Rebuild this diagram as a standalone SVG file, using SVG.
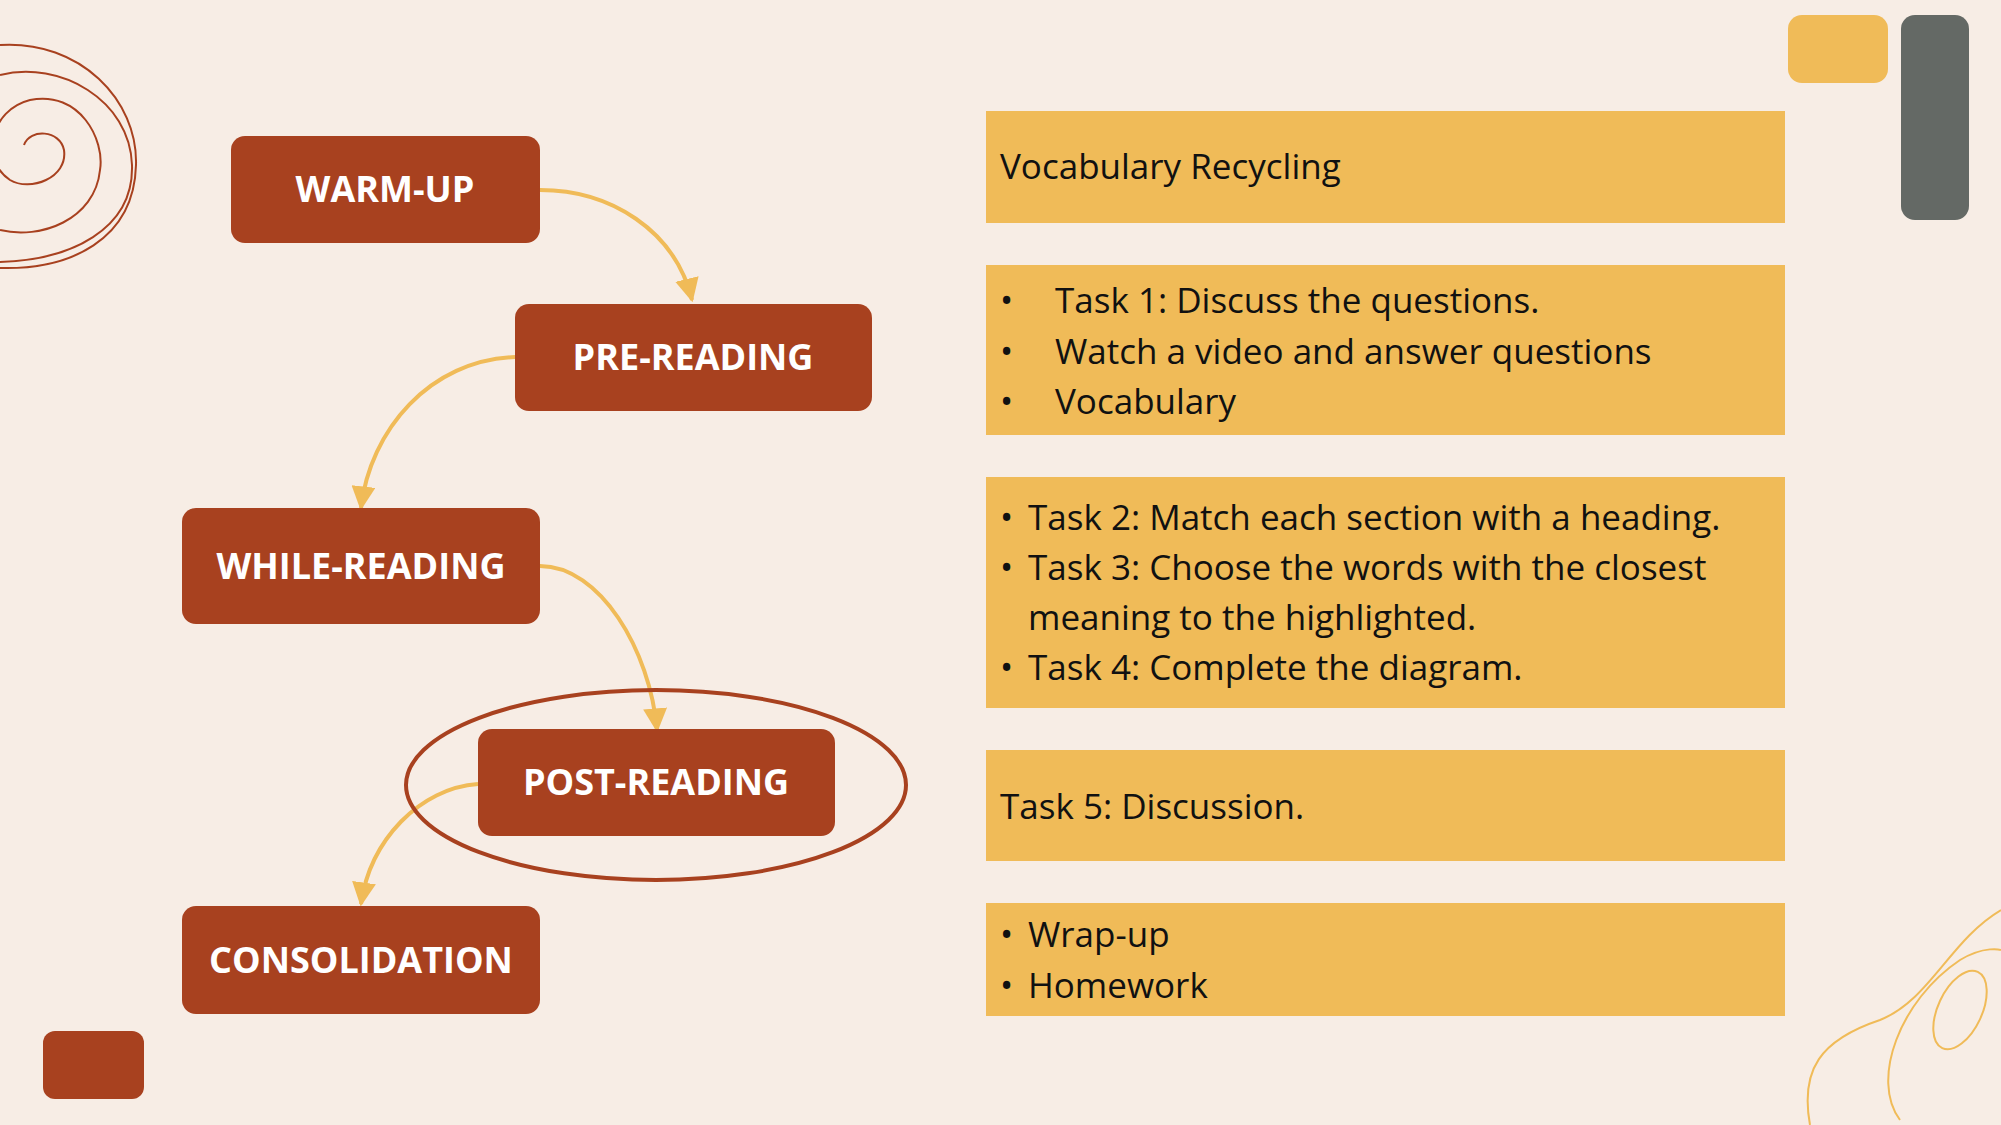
<svg xmlns="http://www.w3.org/2000/svg" width="2001" height="1125" viewBox="0 0 2001 1125">
<defs>
<style>
.n{fill:#a8411f}
.nt{font-family:"Open Sans","Liberation Sans",sans-serif;font-weight:bold;font-size:36px;fill:#fff;text-anchor:middle}
.b{fill:#f0bb58}
.t{font-family:"Open Sans","Liberation Sans",sans-serif;font-size:35px;fill:#111}
.c{fill:none;stroke:#f0bb58;stroke-width:4}
</style>
<marker id="ah" viewBox="0 0 10 10" refX="9" refY="5" markerWidth="6" markerHeight="6" orient="auto" markerUnits="strokeWidth"><path d="M0,0 L10,5 L0,10 Z" fill="#f0bb58"/></marker>
</defs>
<rect width="2001" height="1125" fill="#f7ede5"/>
<g id="decor">
<g fill="none" stroke="#a8411f" stroke-width="2">
<path d="M24,145 C30,128 60,130 64,150 C68,178 30,192 10,180 C-20,160 -10,110 30,100 C80,90 105,140 100,170 C95,220 40,240 0,230"/>
<path d="M0,75 C60,60 130,100 132,165 C134,230 70,260 0,262"/>
<path d="M0,45 C80,40 138,100 136,165 C134,240 70,270 0,268"/>
</g>
<rect x="43" y="1031" width="101" height="68" rx="12" class="n"/>
<rect x="1788" y="15" width="100" height="68" rx="14" class="b"/>
<rect x="1901" y="15" width="68" height="205" rx="14" fill="#646965"/>
<g fill="none" stroke="#f0bb58" stroke-width="2">
<path d="M1810,1125 C1800,1070 1820,1040 1880,1020 C1930,1000 1950,940 2001,910"/>
<path d="M1900,1120 C1870,1080 1900,1000 1960,960 C1985,945 2001,950 2001,950"/>
<ellipse cx="1960" cy="1010" rx="22" ry="42" transform="rotate(25 1960 1010)"/>
</g>
</g>
<g id="connectors">
<path class="c" d="M540,190 C610,190 675,230 692,300" marker-end="url(#ah)"/>
<path class="c" d="M515,357 C430,360 370,430 361,508" marker-end="url(#ah)"/>
<path class="c" d="M540,566 C600,566 650,650 657,730" marker-end="url(#ah)"/>
<path class="c" d="M478,784 C420,788 370,840 361,904" marker-end="url(#ah)"/>
</g>
<ellipse cx="656" cy="785" rx="250" ry="95" fill="none" stroke="#a8411f" stroke-width="4"/>
<g id="warmup"><rect x="231" y="136" width="309" height="107" rx="14" class="n"/><text x="385" y="202" class="nt">WARM-UP</text></g>
<g id="prereading"><rect x="515" y="304" width="357" height="107" rx="14" class="n"/><text x="693" y="370" class="nt">PRE-READING</text></g>
<g id="whilereading"><rect x="182" y="508" width="358" height="116" rx="14" class="n"/><text x="361" y="579" class="nt">WHILE-READING</text></g>
<g id="postreading"><rect x="478" y="729" width="357" height="107" rx="14" class="n"/><text x="656" y="795" class="nt">POST-READING</text></g>
<g id="consolidation"><rect x="182" y="906" width="358" height="108" rx="14" class="n"/><text x="361" y="973" class="nt">CONSOLIDATION</text></g>
<g id="box1"><rect x="986" y="111" width="799" height="112" class="b"/><text x="1000" y="179" class="t">Vocabulary Recycling</text></g>
<g id="box2"><rect x="986" y="265" width="799" height="170" class="b"/>
<text class="t"><tspan x="1000" y="313">•</tspan><tspan x="1055" y="313">Task 1: Discuss the questions.</tspan><tspan x="1000" y="364">•</tspan><tspan x="1055" y="364">Watch a video and answer questions</tspan><tspan x="1000" y="414">•</tspan><tspan x="1055" y="414">Vocabulary</tspan></text></g>
<g id="box3"><rect x="986" y="477" width="799" height="231" class="b"/>
<text class="t"><tspan x="1000" y="530">•</tspan><tspan x="1028" y="530">Task 2: Match each section with a heading.</tspan><tspan x="1000" y="580">•</tspan><tspan x="1028" y="580">Task 3: Choose the words with the closest</tspan><tspan x="1028" y="630">meaning to the highlighted.</tspan><tspan x="1000" y="680">•</tspan><tspan x="1028" y="680">Task 4: Complete the diagram.</tspan></text></g>
<g id="box4"><rect x="986" y="750" width="799" height="111" class="b"/><text x="1000" y="819" class="t">Task 5: Discussion.</text></g>
<g id="box5"><rect x="986" y="903" width="799" height="113" class="b"/>
<text class="t"><tspan x="1000" y="947">•</tspan><tspan x="1028" y="947">Wrap-up</tspan><tspan x="1000" y="998">•</tspan><tspan x="1028" y="998">Homework</tspan></text></g>
</svg>
